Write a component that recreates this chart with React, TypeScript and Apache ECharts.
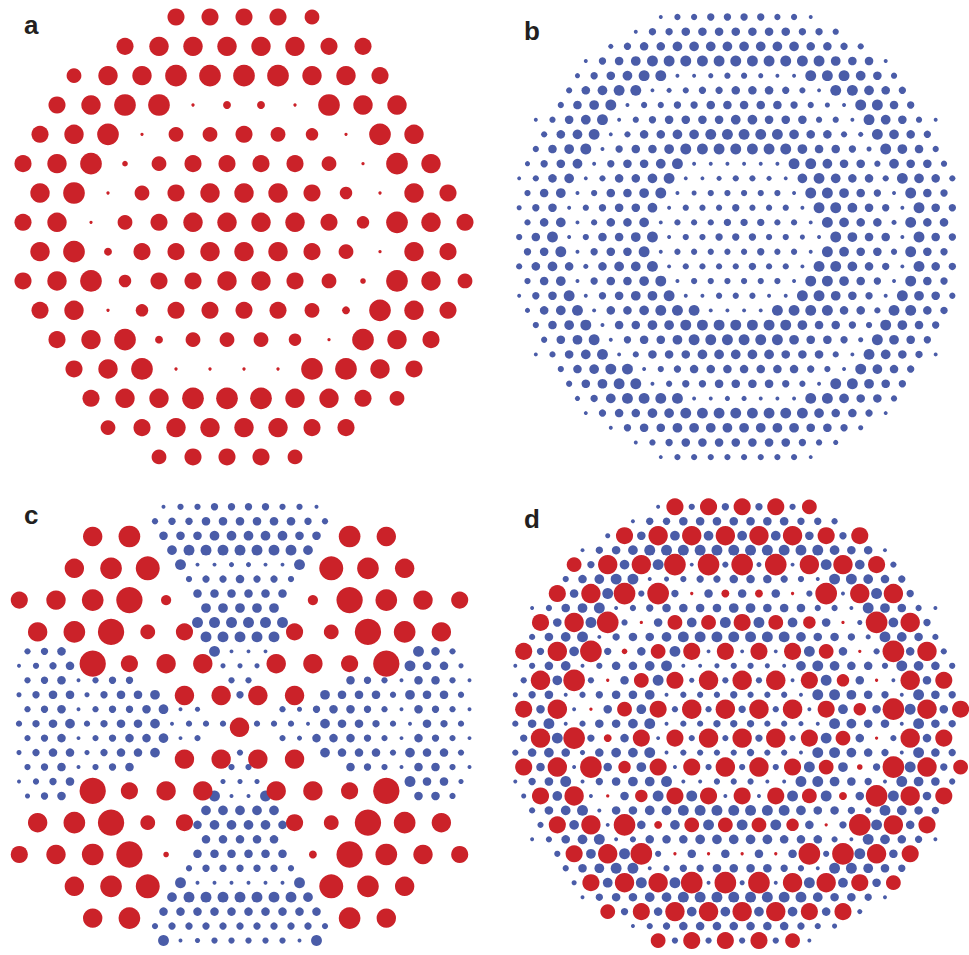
import React, { useEffect, useRef } from "react";
import * as echarts from "echarts";

const RED = "#cb2229";
const BLUE = "#4a5ca8";

// Panel a: red dots on a hexagonal lattice (rows top to bottom, each char = dot size level, "." = no dot)
const A_ROWS = [
  "....77776....",
  "...78888877...",
  ".6889999887..",
  ".78991331988..",
  "789166765198.",
  "7892677776198.",
  "8916788875187",
  "78167888875987",
  "8937788876187",
  "78957788762986",
  "7815777763987",
  ".789366651987.",
  ".78911119987.",
  "..7889998876..",
  "..67888877...",
  "....67776.....",
];

// Panel b: blue dots on the fine hexagonal lattice
const B_ROWS = [
  "3556666553",
  "3667777777665",
  "4677888888887765",
  "3678999999999998773",
  "46789933455433999875",
  "578993456677765399876",
  "5789355667777765439976",
  "3578935677778877755398753",
  "578935778899999877549876",
  "5789367789999999877649875",
  "46783677893333339987758775",
  "357835778933455438987759875",
  "57835778934555553998763976",
  "467356778355565553998763976",
  "57835778355566655398774977",
  "579357789355666554398773976",
  "67936779355555655398775976",
  "578747889355556553998763976",
  "57836778935555553998763976",
  "367936788933555339987639875",
  "47893778999333399997759976",
  "5789377889999999877659876",
  "578936778999999877649876",
  "3578935777888887775398763",
  "5789935677777776539876",
  "578993566777765399876",
  "46899993344333998775",
  "3677889999999987763",
  "3677888888887764",
  "3567777777654",
  "3555555553",
];

// Panel c: blue dots (fine lattice)
const C_BLUE_ROWS = [
  "3556666553",
  "56677777765",
  "7778888877",
  "899999998",
  "93344339",
  "5667665",
  "777777",
  "88888",
  "999999",
  "99999",
  "567........9333........975",
  "3567........444........9774",
  ".5673566.....55.....76537753",
  "467746778....6....877758775",
  ".56735667834....546776537653",
  "5678567783555.5553877653765",
  ".56735677835....547776537653",
  "467746778....5....877758775",
  ".5673567.....55.....76537753",
  "3567........444........9774",
  "467........9339........775",
  "88888",
  "788887",
  "77777",
  "777777",
  "5666665",
  "93333339",
  "899999998",
  "7777777777",
  "56666666665",
  "9345555539",
];

// Panel c: red dots (coarse lattice), rows m = -6..6
const C_RED_ROWS = [
  "..89.....98..",
  ".89a....a98.",
  "789b4...4b987",
  "89b67..76b98",
  "..b788.887b..",
  "....8888....",
  "......8......",
  "....8888....",
  "..b788.887b..",
  "89b67..76b98",
  "789b2...3b987",
  ".89a....a98.",
  "..89.....98..",
];

const PANEL_LABELS = ["a", "b", "c", "d"];

function latticePoints(rows: string[], rowOffset = 0): number[][] {
  const out: number[][] = [];
  rows.forEach((s, r) => {
    const L = s.length;
    for (let i = 0; i < L; i++) {
      const ch = s[i];
      if (ch === ".") continue;
      out.push([2 * i - (L - 1), r + rowOffset, parseInt(ch, 36)]);
    }
  });
  return out;
}

function mod2(x: number) {
  return ((x % 2) + 2) % 2;
}

function frame(cx: number, ux: number, xr: number, cy0: number, uy: number, yMin: number, yMax: number) {
  return {
    grid: { left: cx - ux * xr, width: 2 * ux * xr, top: cy0 + uy * yMin, height: uy * (yMax - yMin) },
    xAxis: { type: "value", min: -xr, max: xr, show: false },
    yAxis: { type: "value", min: yMin, max: yMax, inverse: true, show: false },
  };
}

export default function App() {
  const ref = useRef<HTMLDivElement>(null);
  useEffect(() => {
    document.body.style.margin = "0";
    if (!ref.current) return;
    const chart = echarts.init(ref.current, undefined, { renderer: "svg" });

    const frames = [
      frame(244, 17, 14, 17, 29.33, -0.5, 15.5), // a
      frame(740.5, 8.5, 28, 17, 14.67, -1, 31), // b
      frame(240, 8.5, 28, 507, 14.67, -1, 31), // c blue
      frame(239.5, 18.35, 13, 727.3, 31.8, -7, 7), // c red
      frame(736.5, 8.5, 28, 507, 14.67, -1, 31), // d
    ];

    const aPts = latticePoints(A_ROWS);
    const bPts = latticePoints(B_ROWS);
    const cBlue = latticePoints(C_BLUE_ROWS);
    const cRed = latticePoints(C_RED_ROWS, -6);
    const dRed = aPts.map(([q, j, v]) => [2 * q + 1, 2 * j, v]);
    const dBlue = bPts.filter(([k, r]) => !(mod2(r) === 0 && mod2((k - 1) / 2 - r / 2) === 0));

    const redSize = (v: number[]) => v[2] * 2.3 + 1;
    const blueSize = (v: number[]) => v[2] * 1.15 + 0.5;

    const mk = (data: number[][], idx: number, color: string, size: (v: number[]) => number) => ({
      type: "scatter",
      xAxisIndex: idx,
      yAxisIndex: idx,
      data,
      symbol: "circle",
      symbolSize: size,
      itemStyle: { color, opacity: 1 },
      silent: true,
      clip: false,
      emphasis: { disabled: true },
    });

    const labelPos = [
      [24, 24.6],
      [524, 31],
      [24, 515],
      [524, 518.5],
    ];

    chart.setOption({
      animation: false,
      grid: frames.map((f) => f.grid),
      xAxis: frames.map((f, i) => ({ ...f.xAxis, gridIndex: i })),
      yAxis: frames.map((f, i) => ({ ...f.yAxis, gridIndex: i })),
      series: [
        mk(aPts, 0, RED, redSize),
        mk(bPts, 1, BLUE, blueSize),
        mk(cBlue, 2, BLUE, blueSize),
        mk(cRed, 3, RED, redSize),
        mk(dBlue, 4, BLUE, blueSize),
        mk(dRed, 4, RED, redSize),
      ],
      graphic: PANEL_LABELS.map((t, i) => ({
        type: "text",
        x: labelPos[i][0],
        y: labelPos[i][1],
        style: {
          text: t,
          fontSize: 26,
          fontWeight: "bold",
          fontFamily: '"Liberation Sans", Arial, sans-serif',
          fill: "#231f20",
          align: "left",
          verticalAlign: "middle",
        },
      })),
    });
    return () => chart.dispose();
  }, []);
  return <div ref={ref} style={{ width: 969, height: 955 }} />;
}
